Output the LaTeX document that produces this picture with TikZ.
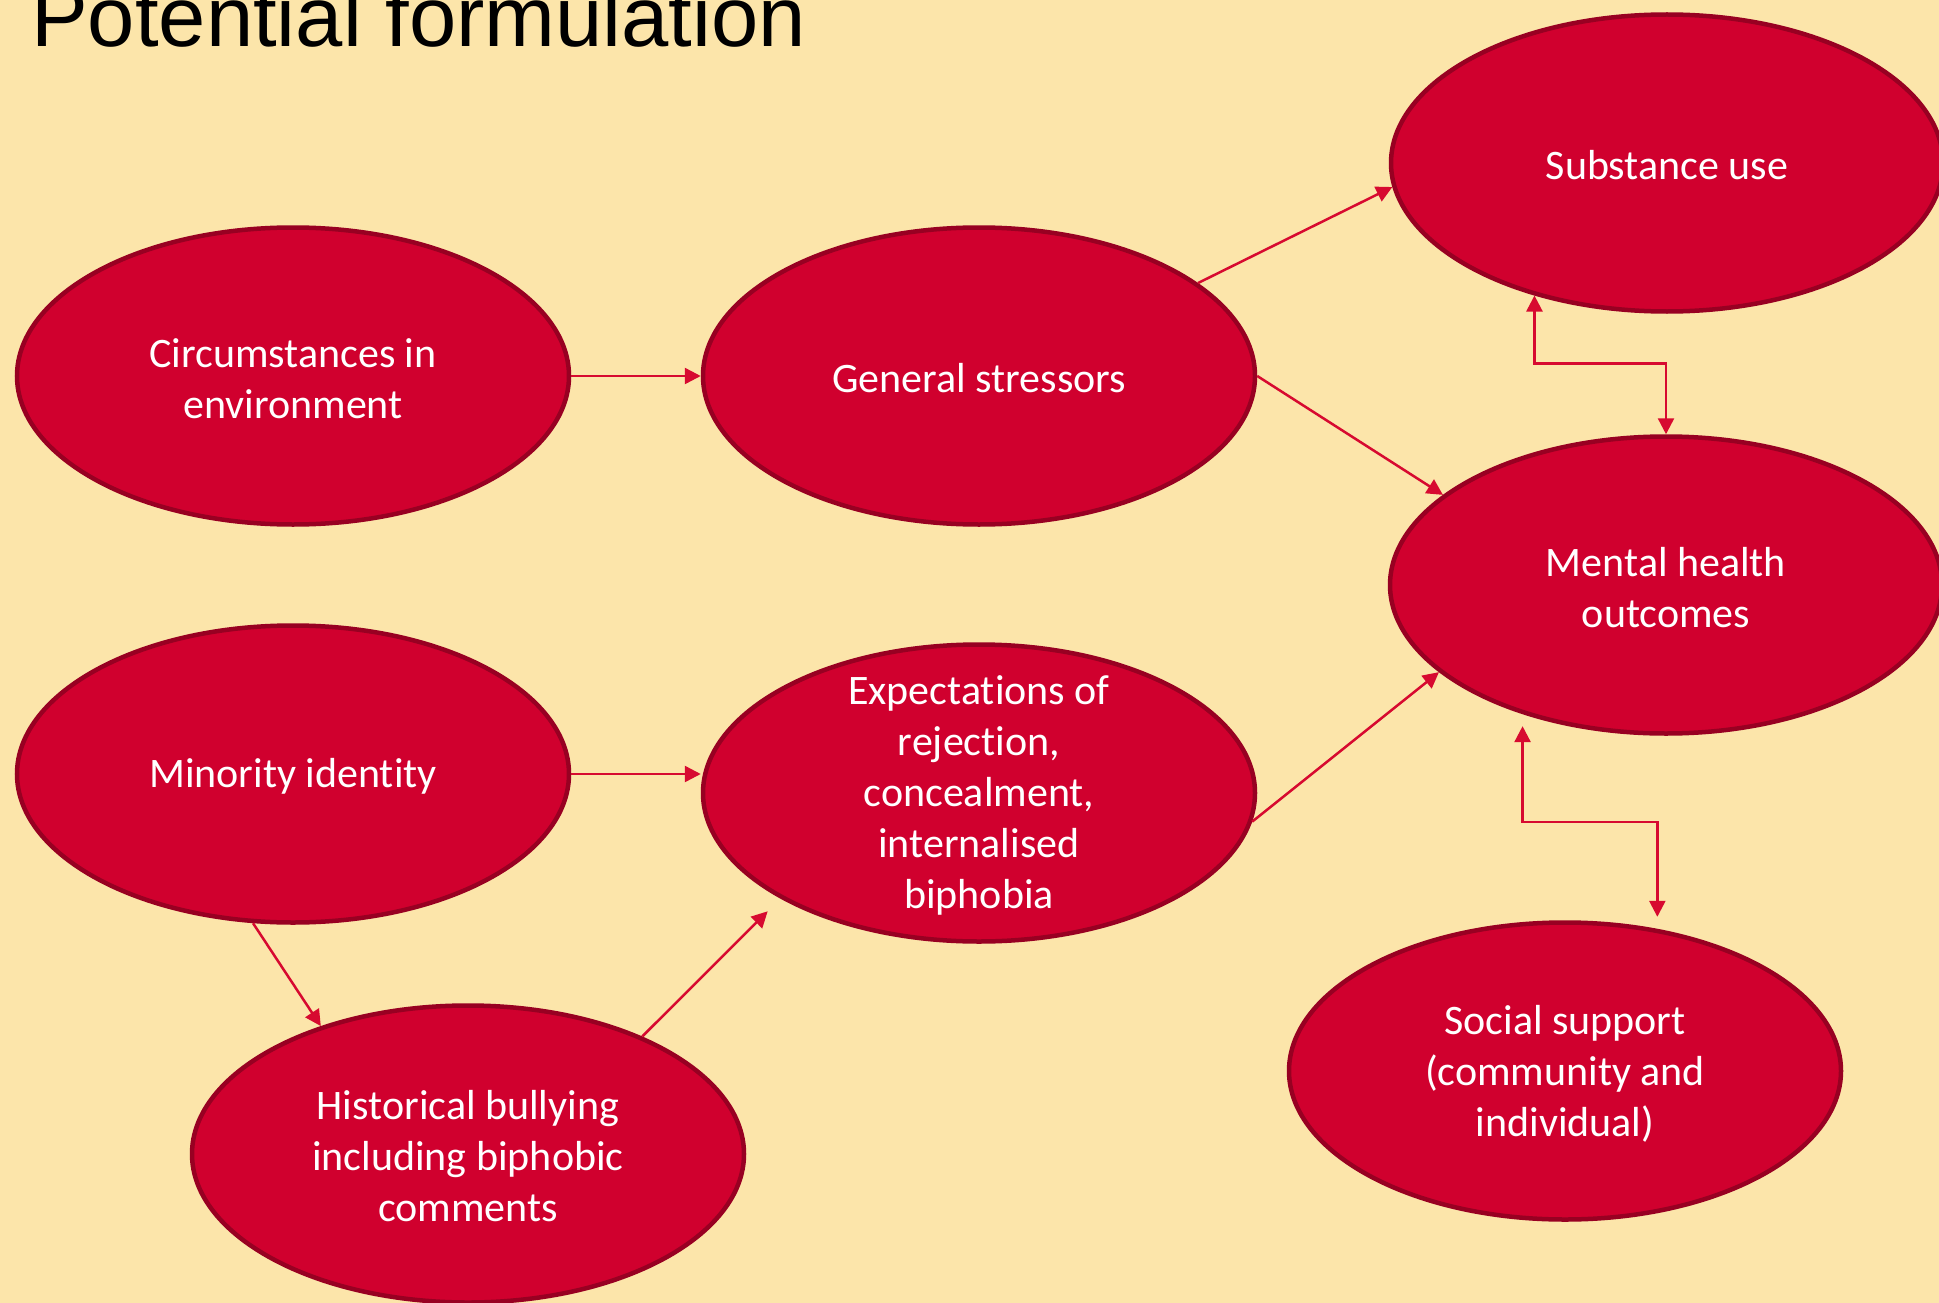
\documentclass[tikz,border=0pt]{standalone}
\usepackage{fontspec}
\setmainfont{Carlito}[Ligatures=NoCommon]
\newfontfamily\headfont{Liberation Sans}
\usetikzlibrary{calc,shapes.geometric,arrows.meta}

\definecolor{bgcream}{RGB}{252,229,170}
\definecolor{blobred}{RGB}{208,0,46}
\definecolor{blobedge}{RGB}{152,0,34}
\definecolor{linkred}{RGB}{215,10,48}

\begin{document}
\begin{tikzpicture}[x=1pt, y=-1pt,
		>={Triangle[length=16pt,width=16pt]},
		blob/.style={ellipse, draw=blobedge, line width=4.5pt, fill=blobred, minimum width=552pt, minimum height=297pt, inner sep=0pt},
		blobtext/.style={text=white, align=center, inner sep=0pt, yshift=-2.5pt, font=\fontsize{42}{51}\selectfont},
		link/.style={draw=linkred, line width=2.5pt, ->}]
			%%%%% START %%%%%
			
			\fill[bgcream] (0,0) rectangle (1939,1303);
			\useasboundingbox (0,0) rectangle (1939,1303);
			
			\node[anchor=base west, inner sep=0pt, font=\headfont\fontsize{85}{85}\selectfont] (title) at (31,47) {Potential formulation};
			
			\node[blob] (circ) at (293,376) {};
			\node[blobtext] (circ-txt) at (circ) {Circumstances in\\environment};
			
			\node[blob] (gen) at (979,376) {};
			\node[blobtext] (gen-txt) at (gen) {General stressors};
			
			\node[blob] (sub) at (1667,163) {};
			\node[blobtext] (sub-txt) at (sub) {Substance use};
			
			\node[blob] (mh) at (1666,585) {};
			\node[blobtext] (mh-txt) at (mh) {Mental health\\outcomes};
			
			\node[blob] (mini) at (293,774) {};
			\node[blobtext] (mini-txt) at (mini) {Minority identity};
			
			\node[blob] (exp) at (979,793) {};
			\node[blobtext] (exp-txt) at (exp) {Expectations of\\rejection,\\concealment,\\internalised\\biphobia};
			
			\node[blob] (hist) at (468,1154) {};
			\node[blobtext] (hist-txt) at (hist) {Historical bullying\\including biphobic\\comments};
			
			\node[blob] (soc) at (1565,1071) {};
			\node[blobtext] (soc-txt) at (soc) {Social support\\(community and\\individual)};
			
			% stressors
			\draw[link] (circ.east) -- (gen.west);
			\draw[link] (gen.23) -- (sub.185);
			\draw[link] (gen.east) -- (mh.158);
			\draw[link, <->] (sub.225) -- ++(0,68) -| (mh.north);
			
			% minority stress
			\draw[link] (mini.east) -- (mini.east -| exp.west);
			\draw[link] (mini.255) -- (hist.139);
			\draw[link, shorten >=18pt] (hist.34) -- (exp.208);
			\draw[link] (exp.354) -- (mh.201);
			\draw[link, <->, shorten <=12pt, shorten >=12pt] (mh.222) -- ++(0,108) -| (soc.57);
			
			%%%%% END %%%%%
\end{tikzpicture}
\end{document}
